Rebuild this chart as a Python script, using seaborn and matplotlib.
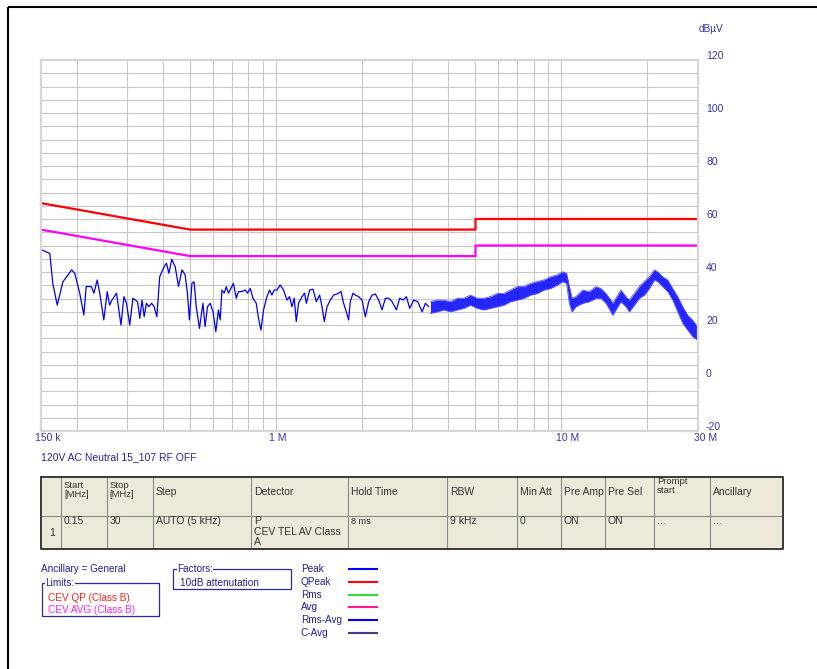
import numpy as np
import pandas as pd
import matplotlib
matplotlib.use("Agg")
import matplotlib.pyplot as plt
import matplotlib.transforms as mtransforms
from matplotlib.patches import Rectangle
import seaborn as sns

# ---------------- data ----------------
peak_freq = [0.1512, 0.161, 0.165, 0.171, 0.179, 0.192, 0.197, 0.205, 0.212, 0.216,
             0.225, 0.230, 0.236, 0.241, 0.249, 0.256, 0.261, 0.266, 0.276, 0.286,
             0.293, 0.299, 0.307, 0.315, 0.327, 0.333, 0.339, 0.345, 0.351, 0.358,
             0.366, 0.374, 0.382, 0.391, 0.405, 0.413, 0.421, 0.431, 0.443, 0.455,
             0.468, 0.480, 0.489, 0.497, 0.507, 0.516, 0.525, 0.539, 0.554, 0.564,
             0.575, 0.588, 0.601, 0.615, 0.628, 0.637, 0.646, 0.658, 0.669, 0.681,
             0.709, 0.725, 0.738, 0.759, 0.780, 0.794, 0.812, 0.830, 0.852, 0.868,
             0.885, 0.904, 0.929, 0.949, 0.967, 0.985, 1.007, 1.034, 1.062, 1.092,
             1.115, 1.137, 1.158, 1.177, 1.199, 1.233, 1.259, 1.277, 1.311, 1.347,
             1.384, 1.421, 1.449, 1.476, 1.509, 1.549, 1.591, 1.635, 1.689, 1.725,
             1.762, 1.796, 1.820, 1.861, 1.896, 1.947, 2.002, 2.056, 2.112, 2.171,
             2.229, 2.289, 2.352, 2.417, 2.482, 2.550, 2.641, 2.712, 2.788, 2.863,
             2.940, 3.037, 3.137, 3.250, 3.338, 3.429]
peak_level = [48.3, 47.0, 35.7, 27.5, 36.3, 40.8, 39.5, 32.0, 23.8, 34.5,
              34.5, 32.0, 37.0, 32.0, 21.9, 32.6, 27.5, 29.4, 32.0, 20.0,
              30.7, 28.2, 20.0, 30.1, 28.8, 22.5, 29.4, 23.1, 28.2, 26.9,
              28.2, 26.9, 23.1, 38.2, 42.0, 43.3, 39.5, 44.8, 42.0, 34.5,
              40.8, 38.9, 32.0, 21.9, 35.7, 36.3, 26.9, 18.7, 28.2, 19.4,
              26.9, 28.2, 25.0, 17.5, 25.7, 21.9, 33.2, 32.0, 34.5, 32.0,
              35.7, 30.1, 32.6, 32.6, 33.2, 32.0, 33.8, 30.1, 28.2, 22.5,
              18.1, 25.7, 30.7, 33.2, 31.3, 33.2, 33.2, 35.1, 33.2, 29.4,
              30.7, 26.9, 30.1, 21.3, 28.2, 30.7, 32.0, 28.2, 33.2, 33.5,
              28.8, 31.3, 26.9, 21.3, 26.9, 29.4, 31.3, 31.7, 32.6, 28.2,
              25.0, 21.9, 28.8, 32.0, 31.3, 30.7, 29.4, 23.1, 28.8, 31.3,
              31.7, 29.4, 25.7, 30.1, 30.1, 28.8, 25.7, 30.1, 29.4, 30.7,
              26.3, 29.4, 28.8, 25.0, 28.2, 26.9]

# dense noisy part of the trace: upper / lower envelope
band_freq = [3.476, 3.669, 3.870, 4.085, 4.311, 4.548, 4.802, 5.069, 5.347, 5.643,
             5.957, 6.283, 6.633, 7.002, 7.385, 7.796, 8.230, 8.682, 9.164, 9.674,
             10.10, 10.43, 10.66, 10.89, 11.24, 11.87, 12.53, 13.21, 13.76, 14.33,
             14.91, 15.12, 15.53, 16.17, 16.84, 17.31, 18.02, 18.76, 19.53, 20.34,
             21.18, 21.75, 22.65, 23.59, 24.56, 25.57, 26.63, 27.72, 28.86, 30.0]
band_hi = [28.8, 29.4, 29.4, 28.8, 30.1, 30.1, 31.3, 30.1, 30.1, 30.7,
           31.9, 31.9, 33.2, 34.5, 34.5, 35.7, 36.4, 37.0, 38.2, 38.9,
           40.1, 39.5, 34.5, 30.1, 30.7, 33.2, 32.6, 34.5, 33.8, 31.9,
           29.4, 28.2, 30.1, 33.2, 30.7, 29.4, 31.9, 34.5, 36.4, 38.2,
           40.8, 40.1, 38.2, 37.0, 33.8, 30.7, 26.9, 23.7, 21.8, 19.4]
band_lo = [24.4, 25.0, 25.7, 25.0, 25.7, 26.3, 27.5, 26.3, 25.7, 26.3,
           26.9, 27.5, 28.8, 29.4, 30.1, 31.3, 31.9, 33.2, 33.8, 35.1,
           36.4, 35.7, 28.2, 25.0, 26.9, 28.2, 28.8, 30.1, 30.1, 28.2,
           25.0, 23.7, 25.7, 28.8, 26.9, 25.0, 27.5, 30.1, 31.3, 33.8,
           37.0, 36.4, 34.5, 32.6, 29.4, 25.0, 20.6, 18.1, 15.6, 14.3]

limit_freq = [0.15, 0.5, 5, 5, 30]
qp_limit = [66, 56, 56, 60, 60]
avg_limit = [56, 46, 46, 50, 50]

x_ticks = [0.15, 1, 10, 30]
x_tick_labels = ["150 k", "1 M", "10 M", "30 M"]
y_ticks = [-20, 0, 20, 40, 60, 80, 100, 120]
grid_x = [0.2, 0.3, 0.4, 0.5, 0.6, 0.7, 0.8, 0.9, 1, 2, 3, 4, 5, 6, 7, 8, 9, 10, 20]

table_header = ["", "Start\n[MHz]", "Stop\n[MHz]", "Step", "Detector", "Hold Time",
                "RBW", "Min Att", "Pre Amp", "Pre Sel", "Prompt\nstart", "Ancillary"]
table_row = ["1", "0.15", "30", "AUTO (5 kHz)", "P\nCEV TEL AV Class\nA", "8 ms",
             "9 kHz", "0", "ON", "ON", "...", "..."]
legend_names = ["Peak", "QPeak", "Rms", "Avg", "Rms-Avg", "C-Avg"]
legend_colors = ["#0000ff", "#ff0000", "#33dd33", "#ff1a8c", "#0000ff", "#404080"]

# ---------------- figure ----------------
sns.set_theme(style="white")
plt.rcParams["font.family"] = ["Liberation Sans", "DejaVu Sans"]

W, H = 817, 669
fig = plt.figure(figsize=(W / 100, H / 100), dpi=100)
fig.patch.set_facecolor("white")

bg = fig.add_axes([0, 0, 1, 1])
bg.set_xlim(0, W)
bg.set_ylim(H, 0)
bg.axis("off")

def px_rect(l, t, r, b):
    return [l / W, 1 - b / H, (r - l) / W, (b - t) / H]

ax = fig.add_axes(px_rect(41, 60, 697.5, 431))
ax.set_xscale("log")
ax.set_xlim(0.15, 30)
ax.set_ylim(-20, 120)
ax.set_facecolor("white")

ax.set_xticks(grid_x)
ax.set_xticks([], minor=True)
ax.set_yticks(list(range(-15, 120, 5)))
ax.grid(True, which="major", axis="both", color="#c8c8c8", linewidth=0.8)
ax.tick_params(which="both", length=0, labelbottom=False, labelleft=False,
               labelright=False, labeltop=False)
for s in ax.spines.values():
    s.set_color("#d6d6d6")
    s.set_linewidth(1.6)

# trace
df_peak = pd.DataFrame({"f": peak_freq, "v": peak_level})
sns.lineplot(data=df_peak, x="f", y="v", ax=ax, color="#0000ff", linewidth=0.9,
             estimator=None, sort=False)
ax.fill_between(band_freq, band_lo, band_hi, color="#0000ff", alpha=0.85,
                linewidth=0, zorder=2)
df_hi = pd.DataFrame({"f": band_freq, "v": band_hi})
df_lo = pd.DataFrame({"f": band_freq, "v": band_lo})
sns.lineplot(data=df_hi, x="f", y="v", ax=ax, color="#5050ff", linewidth=0.6,
             estimator=None, sort=False)
sns.lineplot(data=df_lo, x="f", y="v", ax=ax, color="#5050ff", linewidth=0.6,
             estimator=None, sort=False)

# limits
df_lim = pd.DataFrame({"f": limit_freq, "qp": qp_limit, "avg": avg_limit})
sns.lineplot(data=df_lim, x="f", y="qp", ax=ax, color="#ff0000", linewidth=1.6,
             estimator=None, sort=False)
sns.lineplot(data=df_lim, x="f", y="avg", ax=ax, color="#ff00ff", linewidth=1.6,
             estimator=None, sort=False)
ax.set_xlabel("")
ax.set_ylabel("")

tick_col = "#3535b5"
# y labels on the right
for v in y_ticks:
    tr = ax.get_yaxis_transform() + mtransforms.ScaledTranslation(
        8.5 / 100, 4 / 100, fig.dpi_scale_trans)
    ax.text(1.0, v, str(v), transform=tr, ha="left", va="center",
            fontsize=7.5, color=tick_col)
# x labels
x_shift = [7, 1.5, 6, 8]
for f, lab, dx in zip(x_ticks, x_tick_labels, x_shift):
    tr = ax.get_xaxis_transform() + mtransforms.ScaledTranslation(
        dx / 100, -7 / 100, fig.dpi_scale_trans)
    ax.text(f, 0, lab, transform=tr, ha="center", va="center",
            fontsize=7.5, color=tick_col)

bg.text(699, 29.5, "dBµV", fontsize=7.2, color=tick_col, ha="left", va="center")
bg.text(41, 457, "120V AC Neutral 15_107 RF OFF", fontsize=7.5, color="#2626a6",
        ha="left", va="center")

# outer frame
bg.plot([8, 8], [H, 7], color="black", linewidth=1.5, solid_capstyle="butt")
bg.plot([8, W], [7, 7], color="black", linewidth=1.5, solid_capstyle="butt")

# ---------------- settings table ----------------
cols = [41, 61, 106.7, 152.7, 250.7, 348.3, 446.7, 516.7, 561, 605, 654, 710, 783.3]
t_top, t_mid, t_bot = 477, 516, 549.3
bg.add_patch(Rectangle((cols[0], t_top), cols[-1] - cols[0], t_bot - t_top,
                       facecolor="#ece9d8", edgecolor="none"))
for x in cols[1:-1]:
    bg.plot([x, x], [t_top, t_bot], color="#8a8a8a", linewidth=0.8)
bg.plot([cols[0], cols[-1]], [t_mid, t_mid], color="#8a8a8a", linewidth=0.8)
bg.plot([cols[0], cols[-1], cols[-1], cols[0], cols[0]],
        [t_top, t_top, t_bot, t_bot, t_top], color="#3a3a3a", linewidth=1.4)

txt_col = "#333333"
for i, h in enumerate(table_header):
    if not h:
        continue
    x = cols[i] + 3
    if "\n" in h:
        yy = 486 if h.startswith("Prompt") else 490
        bg.text(x, yy, h, fontsize=6.8, color=txt_col, ha="left", va="center",
                linespacing=0.9)
    else:
        bg.text(x, 492, h, fontsize=7.5, color=txt_col, ha="left", va="center")
for i, r in enumerate(table_row):
    if i == 0:
        bg.text((cols[0] + cols[1]) / 2 + 1, 532.7, r, fontsize=7.5, color=txt_col,
                ha="center", va="center")
        continue
    fs = 6.6 if r == "8 ms" else 7.5
    bg.text(cols[i] + 3, 516.5, r, fontsize=fs, color=txt_col, ha="left", va="top",
            linespacing=1.05)

# ---------------- legend area ----------------
leg_col = "#2020a0"
bg.text(41, 569.3, "Ancillary = General", fontsize=7.2, color=leg_col,
        ha="left", va="center")
bg.add_patch(Rectangle((41.7, 583.3), 159 - 41.7, 616 - 583.3, facecolor="none",
                       edgecolor="#2a2a9a", linewidth=0.9))
bg.text(45, 583.3, "Limits:", fontsize=7.2, color=leg_col, ha="left", va="center",
        bbox=dict(facecolor="white", edgecolor="none", pad=0.3))
bg.text(47.7, 597.7, "CEV QP (Class B)", fontsize=7.2, color="#ff2020",
        ha="left", va="center")
bg.text(47.7, 610, "CEV AVG (Class B)", fontsize=7.2, color="#ff20ff",
        ha="left", va="center")

bg.add_patch(Rectangle((173.3, 569.3), 291 - 173.3, 589 - 569.3, facecolor="none",
                       edgecolor="#2a2a9a", linewidth=0.9))
bg.text(177, 569.3, "Factors:", fontsize=7.2, color=leg_col, ha="left", va="center",
        bbox=dict(facecolor="white", edgecolor="none", pad=0.3))
bg.text(180, 583.3, "10dB attenutation", fontsize=7.2, color=leg_col,
        ha="left", va="center")

leg_y = [569, 581.7, 594.5, 607, 620, 632.7]
for name, c, y in zip(legend_names, legend_colors, leg_y):
    bg.text(300.7, y, name, fontsize=7.2, color=leg_col, ha="left", va="center")
    bg.plot([348.3, 378.3], [y, y], color=c, linewidth=1.5, solid_capstyle="butt")

fig.savefig("out.png", dpi=100, facecolor="white")
